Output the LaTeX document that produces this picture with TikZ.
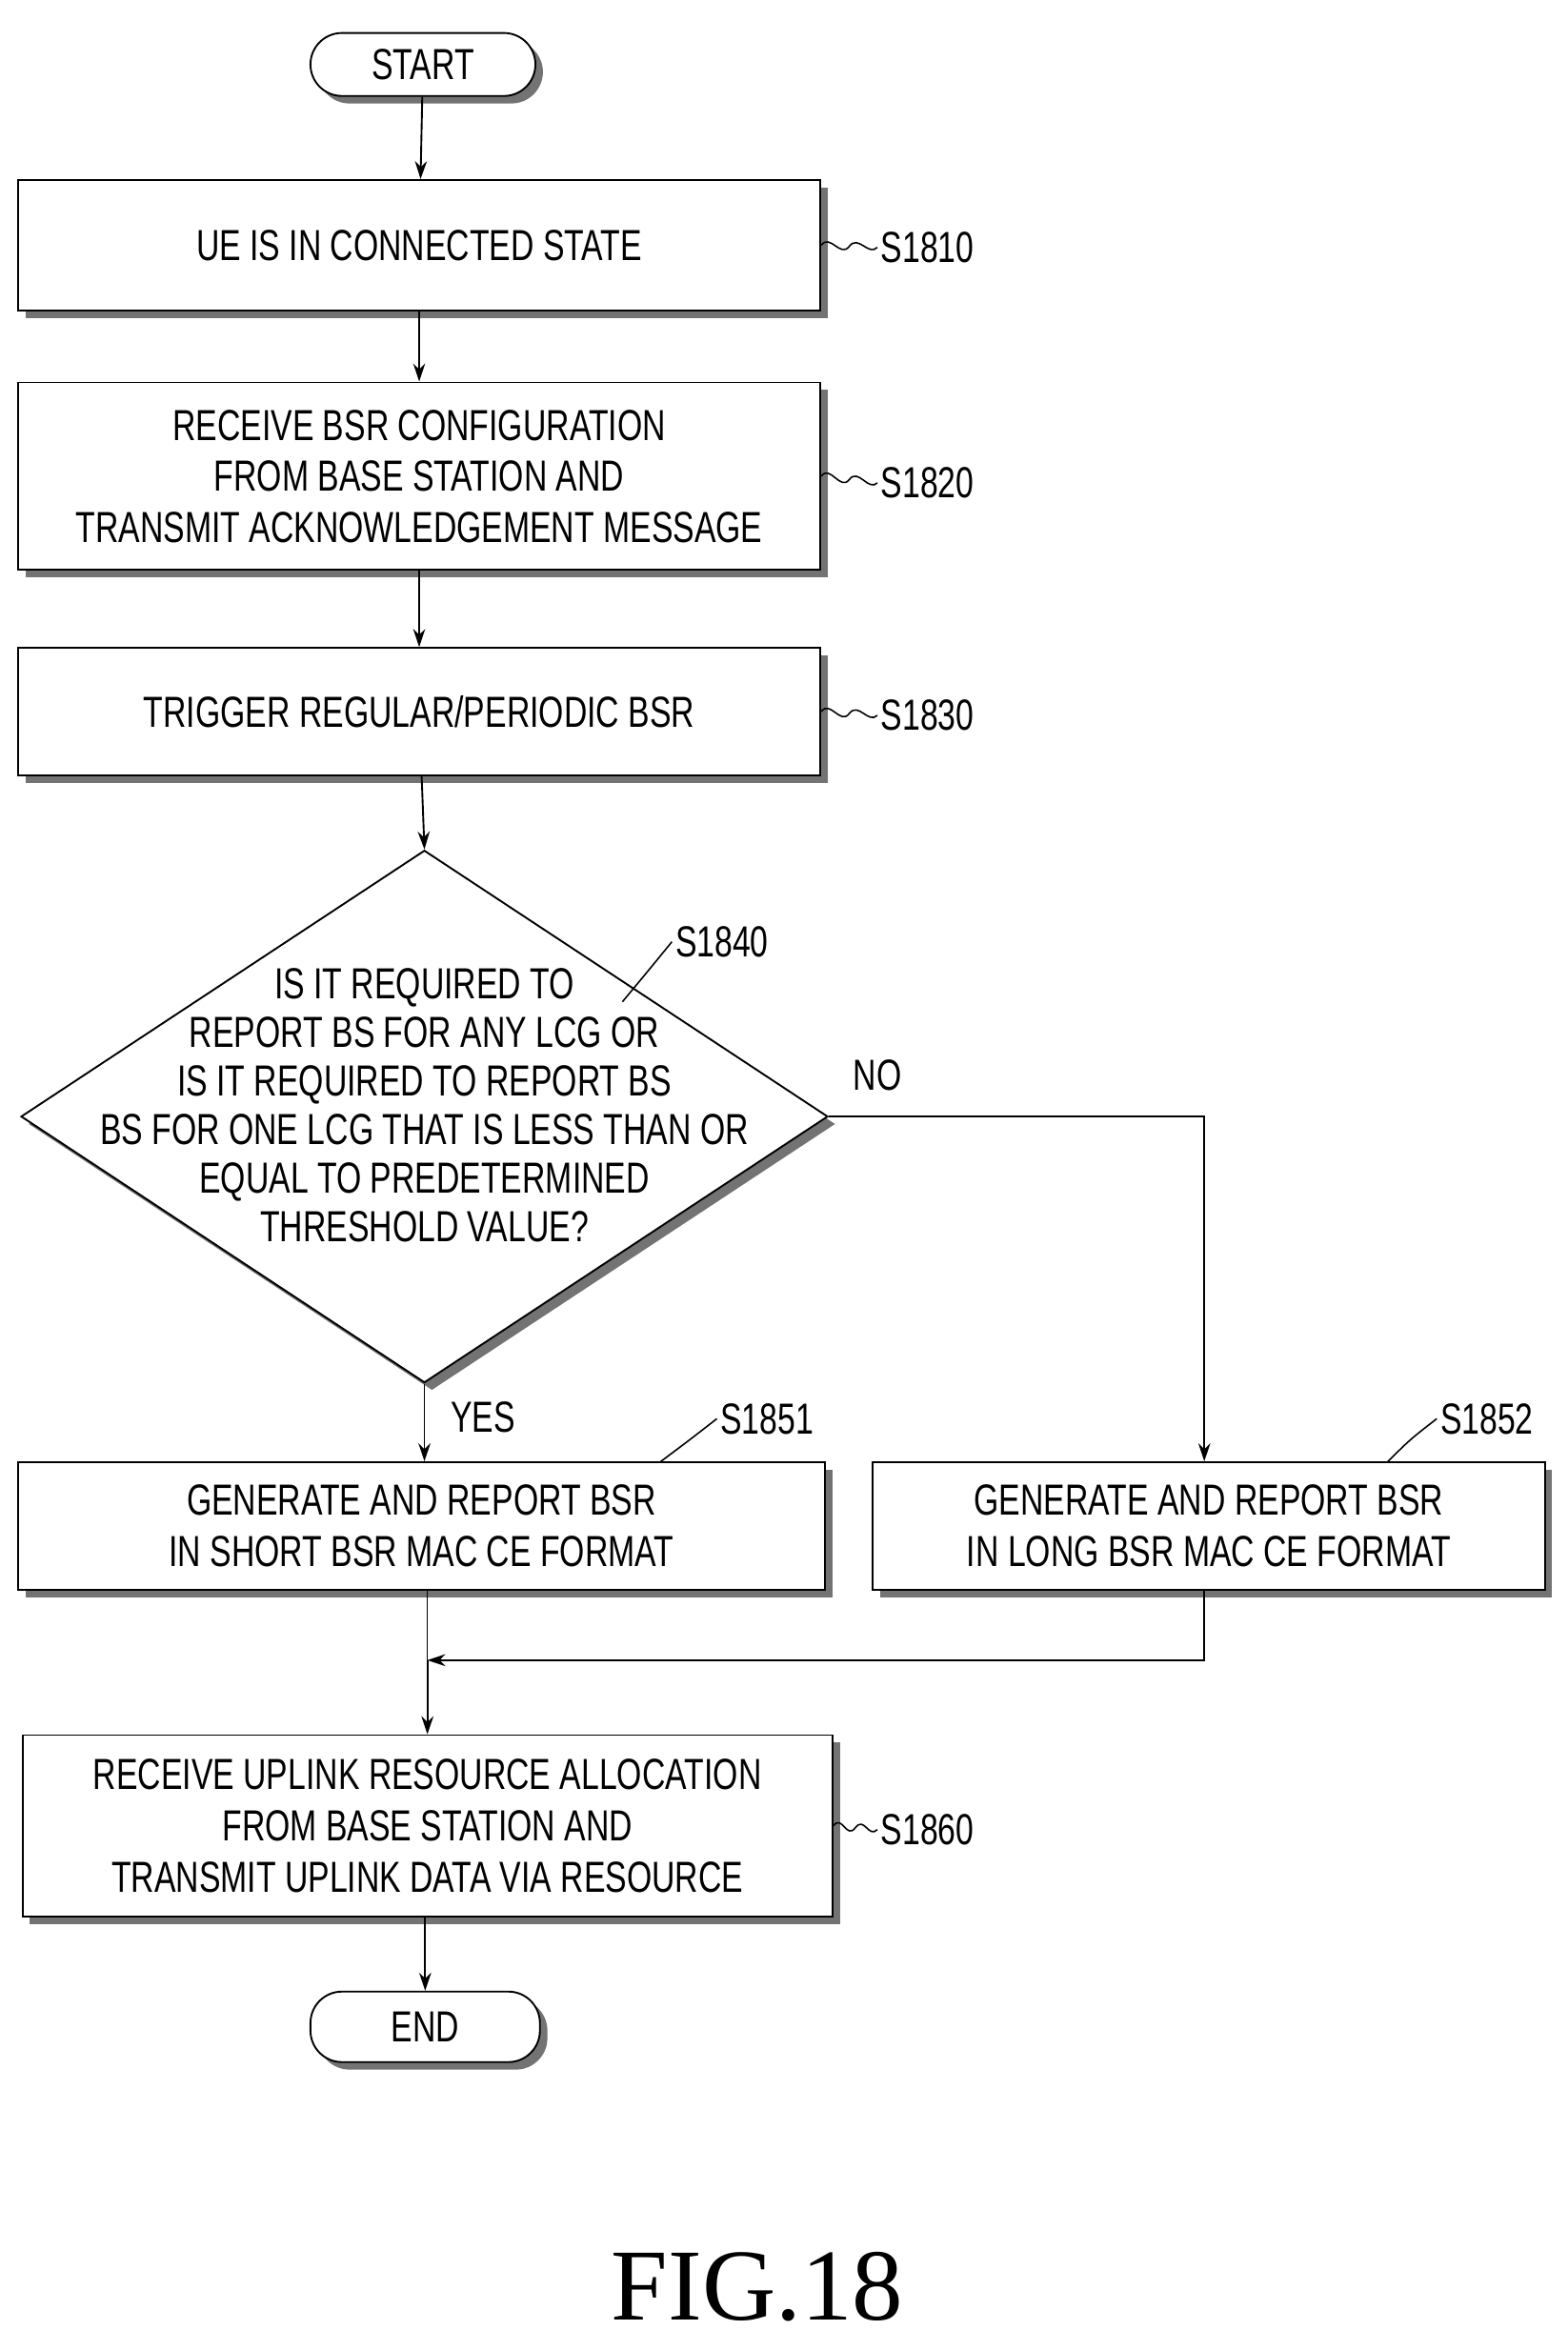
\documentclass[tikz,border=0pt]{standalone}
\usepackage{fontspec}
\setmainfont{Liberation Sans}[FakeStretch=0.74]
\newfontfamily\figfont{Liberation Serif}
\usetikzlibrary{shapes.geometric,shadows,arrows.meta,calc}
\begin{document}
\begin{tikzpicture}[x=0.5pt,y=-0.5pt,
  font=\fontsize{14.5}{17}\selectfont,
  sh/.style={drop shadow={shadow xshift=2.5pt,shadow yshift=-2.5pt,fill=black!55,opacity=1}},
  box/.style={draw,fill=white,sh,line width=0.6pt,align=center,inner sep=0pt},
  term/.style={box,rounded corners=10.5pt,minimum width=75pt,minimum height=21pt},
  lbl/.style={inner sep=1pt},
  arr/.style={-{Stealth[length=6pt,width=4pt]},line width=0.6pt},
  ln/.style={line width=0.5pt}]
\useasboundingbox (0,0) rectangle (1045,1567);
\node[term] (start) at (282,43) {START};
\node[box,minimum width=267.5pt,minimum height=43.5pt] (s1810) at (279.5,163.5) {UE IS IN CONNECTED STATE};
\node[box,minimum width=267.5pt,minimum height=62.5pt] (s1820) at (279.5,317.5) {RECEIVE BSR CONFIGURATION\\FROM BASE STATION AND\\TRANSMIT ACKNOWLEDGEMENT MESSAGE};
\node[box,minimum width=267.5pt,minimum height=42.5pt] (s1830) at (279.5,474.5) {TRIGGER REGULAR/PERIODIC BSR};
\node[draw,fill=white,sh,diamond,aspect=1.52,line width=0.6pt,minimum width=269pt,minimum height=177.5pt,inner sep=0pt] (s1840) at (283,744.5) {};
\node[align=center,font=\fontsize{14.5}{16.2}\selectfont] (q) at (283,737) {IS IT REQUIRED TO\\REPORT BS FOR ANY LCG OR\\IS IT REQUIRED TO REPORT BS\\BS FOR ONE LCG THAT IS LESS THAN OR\\EQUAL TO PREDETERMINED\\THRESHOLD VALUE?};
\node[box,minimum width=269pt,minimum height=42.5pt] (s1851) at (281,1017.5) {GENERATE AND REPORT BSR\\IN SHORT BSR MAC CE FORMAT};
\node[box,minimum width=224pt,minimum height=42.5pt] (s1852) at (806,1017.5) {GENERATE AND REPORT BSR\\IN LONG BSR MAC CE FORMAT};
\node[box,minimum width=270pt,minimum height=60.5pt] (s1860) at (285,1217.5) {RECEIVE UPLINK RESOURCE ALLOCATION\\FROM BASE STATION AND\\TRANSMIT UPLINK DATA VIA RESOURCE};
\node[term,minimum width=76.5pt,minimum height=23.5pt] (end) at (283.5,1351.5) {END};
\node[font=\fontsize{34}{40}\selectfont\figfont] (fig) at (505,1525) {FIG.18};
% labels
\node[lbl,anchor=west] (l1810) at (585,165) {S1810};
\node[lbl,anchor=west] (l1820) at (585,322) {S1820};
\node[lbl,anchor=west] (l1830) at (585,477) {S1830};
\node[lbl,anchor=west] (l1840) at (448,628) {S1840};
\node[lbl,anchor=west] (l1851) at (478,946) {S1851};
\node[lbl,anchor=west] (l1852) at (958,946) {S1852};
\node[lbl,anchor=west] (l1860) at (585,1220) {S1860};
\node[lbl] (no) at (585,717) {NO};
\node[lbl] (yes) at (322,945) {YES};
% leader squiggles
\foreach \b/\l in {s1810/l1810,s1820/l1820,s1830/l1830,s1860/l1860}
  \draw[ln] (\b.east) .. controls +(6,-8) and +(-6,8) .. ($(\b.east)!0.5!(\l.west)$) .. controls +(6,-8) and +(-6,6) .. (\l.west);
\coordinate (c40) at (415,668);
\coordinate (c51) at (440,975);
\coordinate (c52) at (925,975);
\draw[ln] (c40) .. controls (430,650) .. (l1840.west);
\draw[ln] (c51) .. controls (460,960) .. (l1851.west);
\draw[ln] (c52) .. controls (940,960) .. (l1852.west);
% arrows
\draw[arr] (start) -- (s1810);
\draw[arr] (s1810) -- (s1820);
\draw[arr] (s1820) -- (s1830);
\draw[arr] (s1830) -- (s1840.north);
\draw[arr] (s1840.south) -- (s1840.south |- s1851.north);
\coordinate (nx) at (803,0);
\draw[arr] (s1840.east) -| (s1852.north -| nx);
\coordinate (m) at (285,1107);
\draw[ln] (s1851.south -| m) -- (m);
\draw[arr] (s1852.south -| nx) |- (m);
\draw[arr] (m) -- (s1860.north -| m);
\draw[arr] (s1860.south -| end) -- (end);
\end{tikzpicture}
\end{document}
